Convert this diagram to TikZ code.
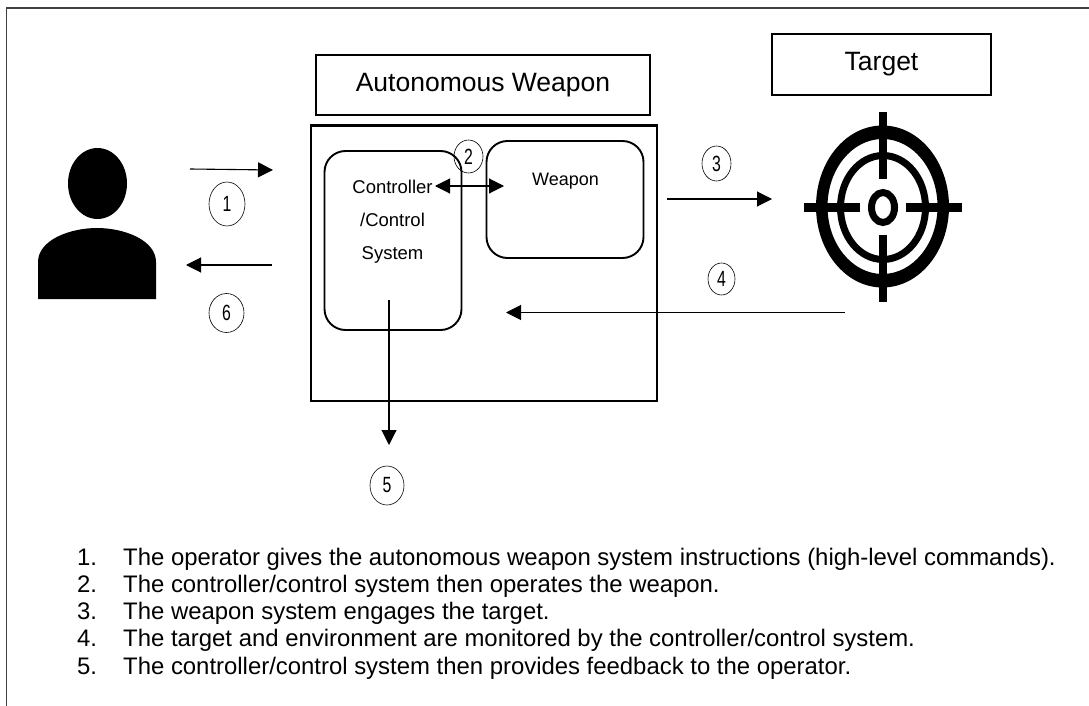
\documentclass[tikz,border=0pt]{standalone}
\usepackage{fontspec}
\setmainfont{Liberation Sans}
\newfontfamily\numfont[FakeStretch=.72]{Liberation Sans}
\usetikzlibrary{arrows.meta,shapes.geometric}
\tikzset{>={Triangle[length=15pt,width=15pt]}}
\tikzset{
  titlebox/.style={draw,line width=1.7pt,font=\fontsize{26.5}{30}\selectfont},
  innerbox/.style={draw,line width=1.9pt,rounded corners=21pt},
  stepnum/.style={draw,ellipse,line width=.6pt,inner sep=0pt,font=\numfont\fontsize{22}{24}\selectfont},
  flow/.style={->,line width=1.1pt},
  boxtext/.style={font=\fontsize{18.5}{22}\selectfont,anchor=base},
  listtext/.style={font=\fontsize{23.9}{27}\selectfont,anchor=base west,inner sep=0pt}
}
\begin{document}
\begin{tikzpicture}[x=1pt,y=-1pt]
    \useasboundingbox (0,0) rectangle (1089,706);
    \draw[line width=1.6pt,draw=black!75] (1094,8) -- (6.5,8) -- (6.5,711);
    % person
    \fill (97.5,183.5) ellipse (29.5 and 35.5);
    \fill (38,299) -- (38,262) .. controls (38,240) and (70,228) .. (97,228)
      .. controls (124,228) and (156,240) .. (156,262) -- (156,299) -- cycle;
    % target
    \fill[even odd rule] (882.5,206.5) ellipse (66.5 and 81) (882.5,206.5) ellipse (55 and 67.5);
    \draw[line width=7pt] (883,207.5) ellipse (42.5 and 52);
    \draw[line width=7pt] (883,207.5) ellipse (11.5 and 15);
    \foreach \a/\b in {112/179,235/302} {
        \draw[line width=7.5pt] (883,\a) -- (883,\b);
      }
    \foreach \a/\b in {804/860,906/962} {
        \draw[line width=9pt] (\a,207) -- (\b,207);
      }
    % boxes
    \node[titlebox,minimum width=334pt,minimum height=60pt] (weapontitle) at (483,85) {Autonomous Weapon};
    \node[titlebox,minimum width=219pt,minimum height=61pt] (targettitle) at (881.5,64.5) {Target};
    \draw[line width=2.2pt] (311,125.5) rectangle (657,401);
    \draw[innerbox] (324.5,151) rectangle (461.5,330);
    \draw[innerbox] (486.5,141) rectangle (643.5,258);
    \node[boxtext] (controller) at (392.5,193) {Controller};
    \node[boxtext] (control) at (392.5,226) {/Control};
    \node[boxtext] (system) at (392.5,259) {System};
    \node[boxtext,font=\fontsize{18}{22}\selectfont] (weapon) at (565.5,185) {Weapon};
    % arrows
    \coordinate (a1) at (190,169);
    \coordinate (b1) at (273,170);
    \draw[flow] (a1) -- (b1);
    \coordinate (a6) at (272,265);
    \coordinate (b6) at (186,265);
    \draw[flow] (a6) -- (b6);
    \coordinate (a2) at (435,186);
    \coordinate (b2) at (504,186);
    \draw[<->,line width=1.1pt] (a2) -- (b2);
    \coordinate (a3) at (667,199);
    \coordinate (b3) at (772,199);
    \draw[flow] (a3) -- (b3);
    \coordinate (a4) at (845,312.5);
    \coordinate (b4) at (506,312.5);
    \draw[flow] (a4) -- (b4);
    \coordinate (a5) at (389,300);
    \coordinate (b5) at (389,445);
    \draw[flow] (a5) -- (b5);
    % step numbers
    \node[stepnum,minimum width=36pt,minimum height=44pt] (n1) at (227,204) {1};
    \node[stepnum,minimum width=29pt,minimum height=33pt] (n2) at (468.5,156.5) {2};
    \node[stepnum,minimum width=29pt,minimum height=35pt] (n3) at (716.5,163.5) {3};
    \node[stepnum,minimum width=27pt,minimum height=32pt] (n4) at (721.5,279) {4};
    \node[stepnum,minimum width=34pt,minimum height=39pt] (n5) at (387,485.5) {5};
    \node[stepnum,minimum width=35pt,minimum height=39pt] (n6) at (226.5,313) {6};
    % list
    \foreach \n/\y/\t in {1/565/The operator gives the autonomous weapon system instructions (high-level commands).,
        2/592.25/The controller\slash control system then operates the weapon.,
        3/619.5/The weapon system engages the target.,
        4/646.75/The target and environment are monitored by the controller\slash control system.,
        5/674/The controller\slash control system then provides feedback to the operator.} {
        \node[listtext] (item\n) at (77,\y) {\makebox[46pt][l]{\n.}\t};
      }
  \end{tikzpicture}
\end{document}
